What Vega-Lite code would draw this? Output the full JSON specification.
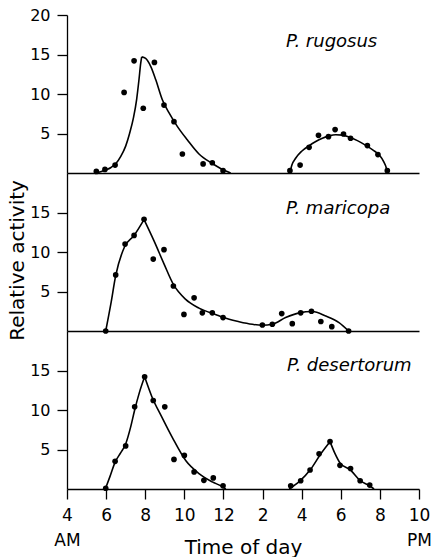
{
  "$schema": "https://vega.github.io/schema/vega-lite/v6.json",
  "padding": {"left": 7, "top": 7, "right": 0, "bottom": 0},
  "background": "white",
  "spacing": 0,
  "bounds": "flush",
  "datasets": {
    "dots": [
      {"sp": "rugosus", "t": 5.5, "v": 0.2}, {"sp": "rugosus", "t": 5.94, "v": 0.45}, {"sp": "rugosus", "t": 6.46, "v": 1.0},
      {"sp": "rugosus", "t": 6.92, "v": 10.2}, {"sp": "rugosus", "t": 7.43, "v": 14.2}, {"sp": "rugosus", "t": 7.9, "v": 8.2},
      {"sp": "rugosus", "t": 8.47, "v": 14.0}, {"sp": "rugosus", "t": 8.96, "v": 8.6}, {"sp": "rugosus", "t": 9.47, "v": 6.5},
      {"sp": "rugosus", "t": 9.9, "v": 2.4}, {"sp": "rugosus", "t": 10.96, "v": 1.15}, {"sp": "rugosus", "t": 11.43, "v": 1.3},
      {"sp": "rugosus", "t": 11.98, "v": 0.3}, {"sp": "rugosus", "t": 15.4, "v": 0.3}, {"sp": "rugosus", "t": 15.92, "v": 1.0},
      {"sp": "rugosus", "t": 16.38, "v": 3.25}, {"sp": "rugosus", "t": 16.86, "v": 4.77}, {"sp": "rugosus", "t": 17.37, "v": 4.6},
      {"sp": "rugosus", "t": 17.71, "v": 5.5}, {"sp": "rugosus", "t": 18.14, "v": 4.94}, {"sp": "rugosus", "t": 18.5, "v": 4.4},
      {"sp": "rugosus", "t": 19.36, "v": 3.47}, {"sp": "rugosus", "t": 19.9, "v": 2.33}, {"sp": "rugosus", "t": 20.38, "v": 0.3},
      {"sp": "maricopa", "t": 5.98, "v": 0}, {"sp": "maricopa", "t": 6.49, "v": 7.1}, {"sp": "maricopa", "t": 6.97, "v": 11.0},
      {"sp": "maricopa", "t": 7.43, "v": 12.1}, {"sp": "maricopa", "t": 7.94, "v": 14.15}, {"sp": "maricopa", "t": 8.41, "v": 9.1},
      {"sp": "maricopa", "t": 8.96, "v": 10.3}, {"sp": "maricopa", "t": 9.44, "v": 5.7}, {"sp": "maricopa", "t": 9.98, "v": 2.1},
      {"sp": "maricopa", "t": 10.5, "v": 4.2}, {"sp": "maricopa", "t": 10.92, "v": 2.3}, {"sp": "maricopa", "t": 11.43, "v": 2.3},
      {"sp": "maricopa", "t": 11.98, "v": 1.7}, {"sp": "maricopa", "t": 13.99, "v": 0.76}, {"sp": "maricopa", "t": 14.5, "v": 0.85},
      {"sp": "maricopa", "t": 14.98, "v": 2.2}, {"sp": "maricopa", "t": 15.52, "v": 0.93}, {"sp": "maricopa", "t": 15.95, "v": 2.3},
      {"sp": "maricopa", "t": 16.5, "v": 2.5}, {"sp": "maricopa", "t": 16.98, "v": 1.2}, {"sp": "maricopa", "t": 17.54, "v": 0.55},
      {"sp": "maricopa", "t": 18.4, "v": 0},
      {"sp": "desertorum", "t": 5.98, "v": 0.1}, {"sp": "desertorum", "t": 6.46, "v": 3.5}, {"sp": "desertorum", "t": 7.0, "v": 5.45},
      {"sp": "desertorum", "t": 7.46, "v": 10.4}, {"sp": "desertorum", "t": 7.97, "v": 14.2}, {"sp": "desertorum", "t": 8.41, "v": 11.2},
      {"sp": "desertorum", "t": 9.0, "v": 10.4}, {"sp": "desertorum", "t": 9.47, "v": 3.75}, {"sp": "desertorum", "t": 10.0, "v": 4.25},
      {"sp": "desertorum", "t": 10.5, "v": 2.16}, {"sp": "desertorum", "t": 11.0, "v": 1.1}, {"sp": "desertorum", "t": 11.48, "v": 1.4},
      {"sp": "desertorum", "t": 11.98, "v": 0.4}, {"sp": "desertorum", "t": 15.44, "v": 0.4}, {"sp": "desertorum", "t": 15.95, "v": 1.04},
      {"sp": "desertorum", "t": 16.43, "v": 2.4}, {"sp": "desertorum", "t": 16.89, "v": 4.45}, {"sp": "desertorum", "t": 17.45, "v": 6.0},
      {"sp": "desertorum", "t": 17.96, "v": 3.0}, {"sp": "desertorum", "t": 18.5, "v": 2.6}, {"sp": "desertorum", "t": 18.99, "v": 1.04},
      {"sp": "desertorum", "t": 19.48, "v": 0.5}
    ],
    "curves": [
      {"sp": "rugosus", "seg": "a", "t": 5.5, "v": 0}, {"sp": "rugosus", "seg": "a", "t": 5.94, "v": 0.35}, {"sp": "rugosus", "seg": "a", "t": 6.25, "v": 0.7},
      {"sp": "rugosus", "seg": "a", "t": 6.5, "v": 1.2}, {"sp": "rugosus", "seg": "a", "t": 6.75, "v": 2.1},
      {"sp": "rugosus", "seg": "a", "t": 7.0, "v": 3.4}, {"sp": "rugosus", "seg": "a", "t": 7.2, "v": 5.0}, {"sp": "rugosus", "seg": "a", "t": 7.4, "v": 7.0},
      {"sp": "rugosus", "seg": "a", "t": 7.56, "v": 9.3},
      {"sp": "rugosus", "seg": "a", "t": 7.68, "v": 11.8}, {"sp": "rugosus", "seg": "a", "t": 7.77, "v": 13.9}, {"sp": "rugosus", "seg": "a", "t": 7.82, "v": 14.7},
      {"sp": "rugosus", "seg": "b", "t": 7.82, "v": 14.7}, {"sp": "rugosus", "seg": "b", "t": 8.02, "v": 14.5}, {"sp": "rugosus", "seg": "b", "t": 8.28, "v": 13.5},
      {"sp": "rugosus", "seg": "b", "t": 8.54, "v": 11.8}, {"sp": "rugosus", "seg": "b", "t": 8.87, "v": 9.3}, {"sp": "rugosus", "seg": "b", "t": 9.22, "v": 7.6},
      {"sp": "rugosus", "seg": "b", "t": 9.64, "v": 5.9}, {"sp": "rugosus", "seg": "b", "t": 10.15, "v": 4.2}, {"sp": "rugosus", "seg": "b", "t": 10.75, "v": 2.4},
      {"sp": "rugosus", "seg": "b", "t": 11.43, "v": 1.2}, {"sp": "rugosus", "seg": "b", "t": 11.9, "v": 0.5}, {"sp": "rugosus", "seg": "b", "t": 12.37, "v": 0},
      {"sp": "rugosus", "seg": "c", "t": 15.4, "v": 0}, {"sp": "rugosus", "seg": "c", "t": 15.5, "v": 1.0}, {"sp": "rugosus", "seg": "c", "t": 15.7, "v": 1.9},
      {"sp": "rugosus", "seg": "c", "t": 16.0, "v": 2.75}, {"sp": "rugosus", "seg": "c", "t": 16.38, "v": 3.45}, {"sp": "rugosus", "seg": "c", "t": 16.7, "v": 3.95},
      {"sp": "rugosus", "seg": "c", "t": 17.06, "v": 4.4}, {"sp": "rugosus", "seg": "c", "t": 17.4, "v": 4.7}, {"sp": "rugosus", "seg": "c", "t": 17.74, "v": 4.85},
      {"sp": "rugosus", "seg": "c", "t": 18.1, "v": 4.8}, {"sp": "rugosus", "seg": "c", "t": 18.42, "v": 4.55}, {"sp": "rugosus", "seg": "c", "t": 18.85, "v": 4.1},
      {"sp": "rugosus", "seg": "c", "t": 19.28, "v": 3.5}, {"sp": "rugosus", "seg": "c", "t": 19.65, "v": 2.9}, {"sp": "rugosus", "seg": "c", "t": 19.96, "v": 2.3},
      {"sp": "rugosus", "seg": "c", "t": 20.2, "v": 1.4}, {"sp": "rugosus", "seg": "c", "t": 20.32, "v": 0.7}, {"sp": "rugosus", "seg": "c", "t": 20.38, "v": 0},
      {"sp": "maricopa", "seg": "a", "t": 5.98, "v": 0}, {"sp": "maricopa", "seg": "a", "t": 6.24, "v": 3.4}, {"sp": "maricopa", "seg": "a", "t": 6.49, "v": 7.0},
      {"sp": "maricopa", "seg": "a", "t": 6.95, "v": 10.7}, {"sp": "maricopa", "seg": "a", "t": 7.43, "v": 12.1}, {"sp": "maricopa", "seg": "a", "t": 7.94, "v": 14.1},
      {"sp": "maricopa", "seg": "b", "t": 7.94, "v": 14.1}, {"sp": "maricopa", "seg": "b", "t": 8.45, "v": 11.4}, {"sp": "maricopa", "seg": "b", "t": 8.96, "v": 8.5},
      {"sp": "maricopa", "seg": "b", "t": 9.44, "v": 5.9}, {"sp": "maricopa", "seg": "b", "t": 10.07, "v": 4.0}, {"sp": "maricopa", "seg": "b", "t": 10.75, "v": 2.9},
      {"sp": "maricopa", "seg": "b", "t": 11.69, "v": 2.0}, {"sp": "maricopa", "seg": "b", "t": 12.0, "v": 1.7}, {"sp": "maricopa", "seg": "b", "t": 12.8, "v": 1.18},
      {"sp": "maricopa", "seg": "b", "t": 13.48, "v": 0.85}, {"sp": "maricopa", "seg": "b", "t": 13.99, "v": 0.72}, {"sp": "maricopa", "seg": "b", "t": 14.5, "v": 0.85},
      {"sp": "maricopa", "seg": "b", "t": 15.18, "v": 1.7}, {"sp": "maricopa", "seg": "b", "t": 15.87, "v": 2.29}, {"sp": "maricopa", "seg": "b", "t": 16.55, "v": 2.46},
      {"sp": "maricopa", "seg": "b", "t": 17.23, "v": 1.9}, {"sp": "maricopa", "seg": "b", "t": 17.91, "v": 1.06}, {"sp": "maricopa", "seg": "b", "t": 18.4, "v": 0},
      {"sp": "desertorum", "seg": "a", "t": 5.96, "v": 0}, {"sp": "desertorum", "seg": "a", "t": 6.2, "v": 1.6}, {"sp": "desertorum", "seg": "a", "t": 6.46, "v": 3.4},
      {"sp": "desertorum", "seg": "a", "t": 6.75, "v": 4.6}, {"sp": "desertorum", "seg": "a", "t": 7.0, "v": 5.7}, {"sp": "desertorum", "seg": "a", "t": 7.25, "v": 7.8},
      {"sp": "desertorum", "seg": "a", "t": 7.46, "v": 10.0}, {"sp": "desertorum", "seg": "a", "t": 7.7, "v": 12.2}, {"sp": "desertorum", "seg": "a", "t": 7.97, "v": 14.2},
      {"sp": "desertorum", "seg": "b", "t": 7.97, "v": 14.2}, {"sp": "desertorum", "seg": "b", "t": 8.33, "v": 11.75}, {"sp": "desertorum", "seg": "b", "t": 8.87, "v": 9.0},
      {"sp": "desertorum", "seg": "b", "t": 9.39, "v": 6.5}, {"sp": "desertorum", "seg": "b", "t": 10.07, "v": 3.6}, {"sp": "desertorum", "seg": "b", "t": 10.75, "v": 1.95},
      {"sp": "desertorum", "seg": "b", "t": 11.43, "v": 0.9}, {"sp": "desertorum", "seg": "b", "t": 11.94, "v": 0.3}, {"sp": "desertorum", "seg": "b", "t": 12.12, "v": 0},
      {"sp": "desertorum", "seg": "c", "t": 15.36, "v": 0}, {"sp": "desertorum", "seg": "c", "t": 15.9, "v": 1.0}, {"sp": "desertorum", "seg": "c", "t": 16.46, "v": 2.5},
      {"sp": "desertorum", "seg": "c", "t": 16.99, "v": 4.5}, {"sp": "desertorum", "seg": "c", "t": 17.45, "v": 6.0},
      {"sp": "desertorum", "seg": "d", "t": 17.45, "v": 6.0}, {"sp": "desertorum", "seg": "d", "t": 17.7, "v": 4.5}, {"sp": "desertorum", "seg": "d", "t": 17.96, "v": 3.3},
      {"sp": "desertorum", "seg": "d", "t": 18.5, "v": 2.4}, {"sp": "desertorum", "seg": "d", "t": 19.0, "v": 1.05}, {"sp": "desertorum", "seg": "d", "t": 19.48, "v": 0.4},
      {"sp": "desertorum", "seg": "d", "t": 19.7, "v": 0}
    ],
    "labels": [
      {"sp": "rugosus", "t": 15.2, "v": 16.6, "name": "P. rugosus"},
      {"sp": "maricopa", "t": 15.2, "v": 15.5, "name": "P. maricopa"},
      {"sp": "desertorum", "t": 15.25, "v": 15.6, "name": "P. desertorum"}
    ]
  },
  "vconcat": [
    {
      "width": 352, "height": 158,
      "encoding": {
        "x": {"field": "t", "type": "quantitative", "scale": {"domain": [4, 22], "nice": false, "zero": false}, "axis": {"labels": false, "ticks": false, "title": null}},
        "y": {"field": "v", "type": "quantitative", "scale": {"domain": [0, 20], "nice": false}, "axis": {"values": [5, 10, 15, 20], "title": null, "labelPadding": 7}}
      },
      "layer": [
        {"data": {"name": "curves"}, "transform": [{"filter": "datum.sp == 'rugosus'"}], "mark": {"type": "line", "interpolate": "monotone", "color": "black", "strokeWidth": 1.6}, "encoding": {"detail": {"field": "seg"}}},
        {"data": {"name": "dots"}, "transform": [{"filter": "datum.sp == 'rugosus'"}], "mark": {"type": "circle", "color": "black", "size": 32, "opacity": 1}},
        {"data": {"name": "labels"}, "transform": [{"filter": "datum.sp == 'rugosus'"}], "mark": {"type": "text", "font": "DejaVu Sans", "fontStyle": "italic", "fontSize": 18, "align": "left", "baseline": "middle", "color": "black"}, "encoding": {"text": {"field": "name"}}}
      ]
    },
    {
      "width": 352, "height": 158,
      "encoding": {
        "x": {"field": "t", "type": "quantitative", "scale": {"domain": [4, 22], "nice": false, "zero": false}, "axis": {"labels": false, "ticks": false, "title": null}},
        "y": {"field": "v", "type": "quantitative", "scale": {"domain": [0, 20], "nice": false}, "axis": {"values": [5, 10, 15], "title": "Relative activity", "labelPadding": 7, "titleFontSize": 20, "titleX": -44, "titleY": 87, "titleBaseline": "alphabetic", "titleAngle": 270}}
      },
      "layer": [
        {"data": {"name": "curves"}, "transform": [{"filter": "datum.sp == 'maricopa'"}], "mark": {"type": "line", "interpolate": "monotone", "color": "black", "strokeWidth": 1.6}, "encoding": {"detail": {"field": "seg"}}},
        {"data": {"name": "dots"}, "transform": [{"filter": "datum.sp == 'maricopa'"}], "mark": {"type": "circle", "color": "black", "size": 32, "opacity": 1}},
        {"data": {"name": "labels"}, "transform": [{"filter": "datum.sp == 'maricopa'"}], "mark": {"type": "text", "font": "DejaVu Sans", "fontStyle": "italic", "fontSize": 18, "align": "left", "baseline": "middle", "color": "black"}, "encoding": {"text": {"field": "name"}}}
      ]
    },
    {
      "width": 352, "height": 158,
      "encoding": {
        "x": {"field": "t", "type": "quantitative", "scale": {"domain": [4, 22], "nice": false, "zero": false}, "axis": {"values": [4, 6, 8, 10, 12, 14, 16, 18, 20, 22], "labelFlush": false, "labelOverlap": false, "labelFontSize": 17, "labelPadding": 8, "labelLineHeight": 25, "labelExpr": "datum.value == 4 ? ['4', 'AM'] : datum.value == 22 ? ['10', 'PM'] : toString(datum.value > 12 ? datum.value - 12 : datum.value)", "title": "Time of day", "titleFontSize": 20, "titleY": 64, "titleBaseline": "alphabetic"}},
        "y": {"field": "v", "type": "quantitative", "scale": {"domain": [0, 20], "nice": false}, "axis": {"values": [5, 10, 15], "title": null, "labelPadding": 7}}
      },
      "layer": [
        {"data": {"name": "curves"}, "transform": [{"filter": "datum.sp == 'desertorum'"}], "mark": {"type": "line", "interpolate": "monotone", "color": "black", "strokeWidth": 1.6}, "encoding": {"detail": {"field": "seg"}}},
        {"data": {"name": "dots"}, "transform": [{"filter": "datum.sp == 'desertorum'"}], "mark": {"type": "circle", "color": "black", "size": 32, "opacity": 1}},
        {"data": {"name": "labels"}, "transform": [{"filter": "datum.sp == 'desertorum'"}], "mark": {"type": "text", "font": "DejaVu Sans", "fontStyle": "italic", "fontSize": 18, "align": "left", "baseline": "middle", "color": "black"}, "encoding": {"text": {"field": "name"}}}
      ]
    }
  ],
  "config": {
    "font": "DejaVu Sans",
    "view": {"stroke": null},
    "axis": {
      "grid": false,
      "domainColor": "black", "tickColor": "black", "labelColor": "black", "titleColor": "black",
      "labelFont": "DejaVu Sans", "titleFont": "DejaVu Sans", "labelFontSize": 16,
      "titleFontWeight": "normal", "tickSize": 10, "domainWidth": 1.3, "tickWidth": 1.3
    }
  }
}
